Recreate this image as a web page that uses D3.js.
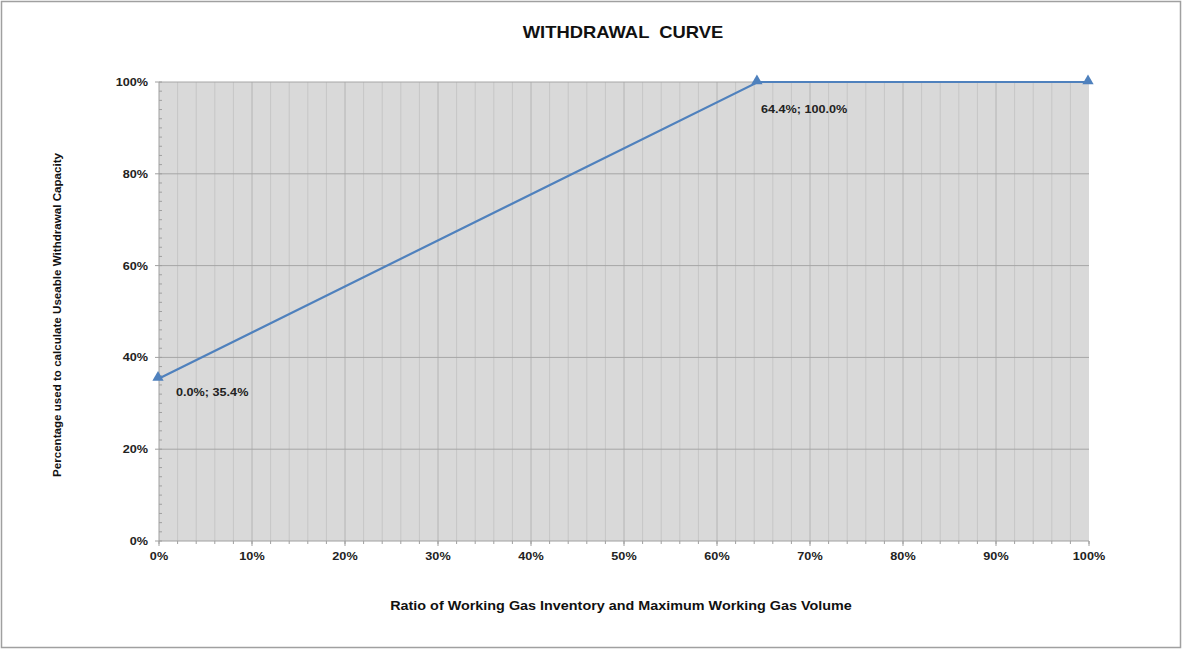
<!DOCTYPE html>
<html><head><meta charset="utf-8">
<script src="https://cdn.jsdelivr.net/npm/d3@7"></script>
<style>body{margin:0;background:#fff;font-family:Arial,"Liberation Sans",sans-serif;}</style>
</head><body>
<svg id="c" width="1183" height="650"></svg>
<script>
const xValues = [0.0, 64.4, 100.0];
const yValues = [35.4, 100.0, 100.0];
const pointLabels = ["0.0%; 35.4%", "64.4%; 100.0%", ""];
const xTicks = [0,10,20,30,40,50,60,70,80,90,100];
const yTicks = [0,20,40,60,80,100];
const title = "WITHDRAWAL  CURVE";
const xTitle = "Ratio of Working Gas Inventory and Maximum Working Gas Volume";
const yTitle = "Percentage used to calculate Useable Withdrawal Capacity";

const SX = 1.15; // horizontal stretch of text seen in the reference
const svg = d3.select("#c");
const W=1183,H=650;
svg.append("rect").attr("x",1.5).attr("y",1.5).attr("width",W-4).attr("height",H-4).attr("fill","#fff").attr("stroke","#a0a0a0").attr("stroke-width",1.5);
const m={l:159,t:82,r:1089,b:541};
const x=d3.scaleLinear().domain([0,100]).range([m.l,m.r]);
const y=d3.scaleLinear().domain([0,100]).range([m.b,m.t]);
const g=svg.append("g");
g.append("rect").attr("x",m.l).attr("y",m.t).attr("width",m.r-m.l).attr("height",m.b-m.t).attr("fill","#d9d9d9");
const minors=d3.range(2,100,2);
g.selectAll(".vx").data(minors).join("line").attr("x1",d=>x(d)).attr("x2",d=>x(d)).attr("y1",m.t).attr("y2",m.b)
 .attr("stroke",d=>d%10===0?"#b4b4b4":"#c6c6c6").attr("stroke-width",1);
g.selectAll(".hy").data(yTicks.filter(d=>d>0)).join("line").attr("x1",m.l).attr("x2",m.r).attr("y1",d=>y(d)).attr("y2",d=>y(d))
 .attr("stroke","#a6a6a6").attr("stroke-width",1);
g.append("line").attr("x1",m.l).attr("x2",m.l).attr("y1",m.t).attr("y2",m.b).attr("stroke","#a0a0a0");
g.append("line").attr("x1",m.l).attr("x2",m.r).attr("y1",m.b).attr("y2",m.b).attr("stroke","#a0a0a0");
g.selectAll(".ty").data(d3.range(0,101,2)).join("line").attr("x1",m.l).attr("x2",m.l+3).attr("y1",d=>y(d)).attr("y2",d=>y(d)).attr("stroke","#a0a0a0");
g.selectAll(".tym").data(yTicks).join("line").attr("x1",m.l-4).attr("x2",m.l).attr("y1",d=>y(d)).attr("y2",d=>y(d)).attr("stroke","#a0a0a0");
g.selectAll(".tx").data(d3.range(0,101,2)).join("line").attr("x1",d=>x(d)).attr("x2",d=>x(d)).attr("y1",m.b).attr("y2",m.b+3).attr("stroke","#a0a0a0");
g.selectAll(".txm").data(xTicks).join("line").attr("x1",d=>x(d)).attr("x2",d=>x(d)).attr("y1",m.b).attr("y2",m.b+5).attr("stroke","#a0a0a0");

function stext(sel,px,py){ return sel.attr("transform",(d,i)=>{const a=typeof px==="function"?px(d,i):px; const b=typeof py==="function"?py(d,i):py; return `translate(${a},${b}) scale(${SX},1)`;}); }

stext(g.selectAll(".xl").data(xTicks).join("text"),d=>x(d),m.b+19).attr("text-anchor","middle")
 .attr("font-size",11).attr("font-weight","bold").attr("fill","#222").text(d=>d+"%");
stext(g.selectAll(".yl").data(yTicks).join("text"),m.l-11,d=>y(d)+4).attr("text-anchor","end")
 .attr("font-size",11).attr("font-weight","bold").attr("fill","#222").text(d=>d+"%");

const pts=xValues.map((v,i)=>({x:v,y:yValues[i],l:pointLabels[i]}));
g.append("path").datum(pts).attr("fill","none").attr("stroke","#4f81bd").attr("stroke-width",2.2)
 .attr("d",d3.line().x(d=>x(d.x)).y(d=>y(d.y)));
g.selectAll(".mk").data(pts).join("path").attr("transform",d=>`translate(${x(d.x)-1},${y(d.y)-1})`)
 .attr("d",d3.symbol(d3.symbolTriangle,55)).attr("fill","#4f81bd");
const labelDx=[17,3,0], labelDy=[17,31,0];
stext(g.selectAll(".pl").data(pts).join("text"),(d,i)=>x(d.x)+labelDx[i],(d,i)=>y(d.y)+labelDy[i])
 .attr("text-anchor","start").attr("font-size",11).attr("font-weight","bold").attr("fill","#222").text(d=>d.l);

stext(svg.append("text"),623,38).attr("text-anchor","middle").attr("font-size",16).attr("font-weight","bold").attr("fill","#111").style("white-space","pre").text(title);
stext(svg.append("text"),621,610).attr("text-anchor","middle").attr("font-size",12.5).attr("font-weight","bold").attr("fill","#111").text(xTitle);
svg.append("text").attr("transform","translate(61,315) rotate(-90)").attr("text-anchor","middle").attr("font-size",11.6).attr("font-weight","bold").attr("fill","#111").text(yTitle);
</script>
</body></html>
